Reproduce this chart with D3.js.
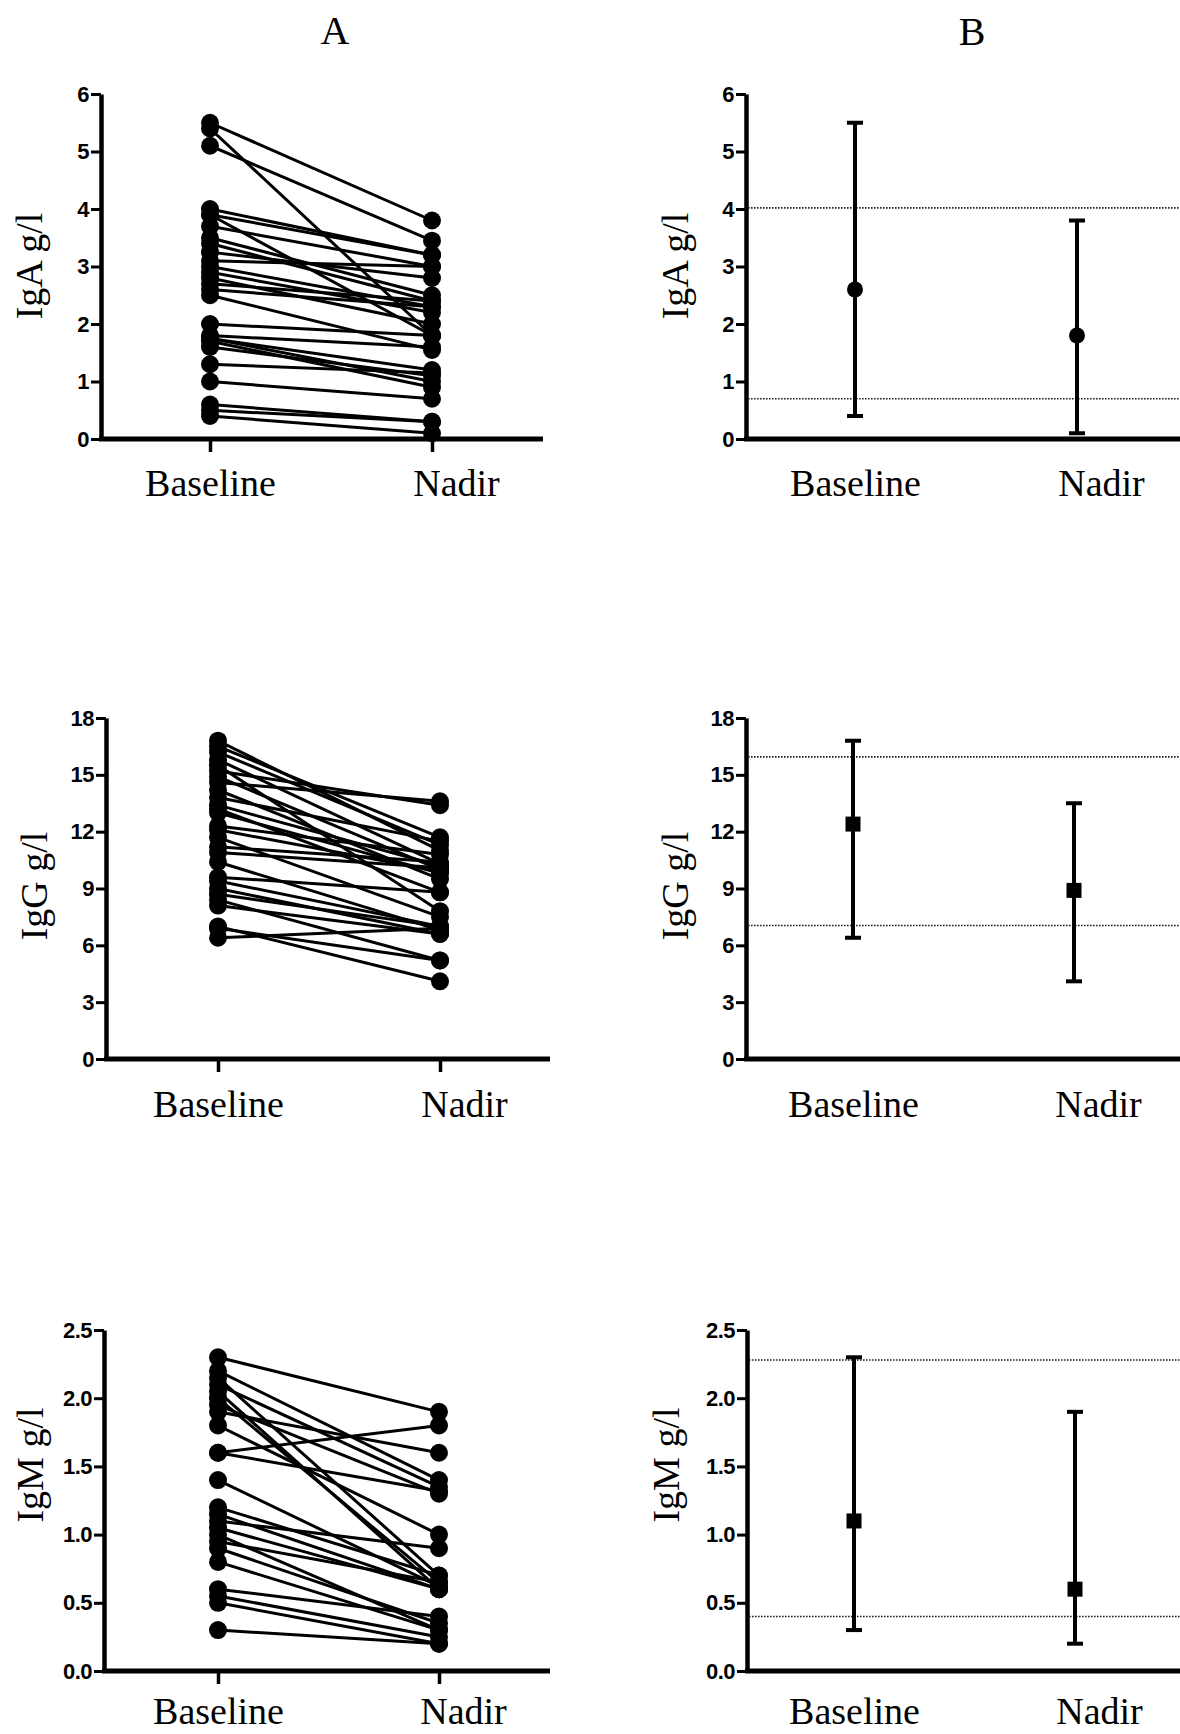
<!DOCTYPE html>
<html><head><meta charset="utf-8">
<script src="https://cdn.jsdelivr.net/npm/d3@7"></script>
<style>
html,body{margin:0;padding:0;background:#fff;}
svg{display:block;}
</style></head><body>
<svg id="chart" width="1180" height="1734"></svg>
<script>
// ---------------- DATA ----------------
const categories = ["Baseline", "Nadir"];
const columnTitles = ["A", "B"];
const yLabels = ["IgA g/l", "IgG g/l", "IgM g/l"];

const igaTicks = [0, 1, 2, 3, 4, 5, 6];
const iggTicks = [0, 3, 6, 9, 12, 15, 18];
const igmTicks = [0, 0.5, 1.0, 1.5, 2.0, 2.5];

// individual patients (paired by index)
const igaBaseline = [5.5, 5.4, 5.1, 4.0, 3.9, 3.9, 3.7, 3.5, 3.4, 3.25, 3.1, 3.0, 2.9, 2.8, 2.7, 2.6, 2.5, 2.0, 1.8, 1.75, 1.75, 1.7, 1.6, 1.3, 1.0, 0.6, 0.5, 0.4];
const igaNadir    = [3.8, 1.8, 3.45, 3.2, 1.8, 3.2, 3.0, 2.5, 2.4, 2.8, 3.0, 2.3, 2.2, 2.0, 2.4, 2.3, 1.55, 1.8, 1.6, 1.2, 1.0, 0.9, 1.1, 1.15, 0.7, 0.3, 0.3, 0.1];

const iggBaseline = [16.8, 16.5, 16.2, 15.8, 15.5, 15.2, 14.9, 14.6, 14.2, 13.8, 13.4, 13.2, 13.0, 12.3, 12.1, 11.7, 11.2, 10.9, 10.4, 9.6, 9.4, 9.0, 8.7, 8.4, 8.1, 7.0, 6.9, 6.4];
const iggNadir    = [11.0, 11.7, 11.3, 10.3, 7.8, 13.4, 10.0, 13.6, 9.5, 11.5, 10.2, 8.8, 9.8, 10.8, 9.9, 7.5, 10.4, 10.1, 6.8, 8.8, 7.0, 6.6, 7.0, 5.2, 6.6, 4.1, 5.2, 6.9];

const igmBaseline = [2.3, 2.2, 2.15, 2.1, 2.05, 2.0, 1.95, 1.9, 1.8, 1.6, 1.6, 1.4, 1.2, 1.15, 1.1, 1.05, 1.0, 0.95, 0.9, 0.8, 0.6, 0.55, 0.5, 0.3];
const igmNadir    = [1.9, 1.4, 0.7, 1.35, 0.6, 0.65, 1.3, 1.6, 1.0, 1.8, 1.32, 0.62, 0.7, 0.6, 0.9, 0.6, 0.3, 0.65, 0.35, 0.3, 0.4, 0.25, 0.2, 0.2];

// summaries: [Baseline, Nadir]
const igaMid  = [2.6, 1.8];
const igaLow  = [0.4, 0.1];
const igaHigh = [5.5, 3.8];
const igaRef  = [0.7, 4.02];

const iggMid  = [12.4, 8.9];
const iggLow  = [6.4, 4.1];
const iggHigh = [16.8, 13.5];
const iggRef  = [7.05, 15.95];

const igmMid  = [1.1, 0.6];
const igmLow  = [0.3, 0.2];
const igmHigh = [2.3, 1.9];
const igmRef  = [0.4, 2.28];

// ---------------- LAYOUT ----------------
const rows = [
  {y0: 439, yTop: 94, labelY: 266, xLabOff: 57, max: 6, ticks: igaTicks, fmt: d3.format("d"),
   base: igaBaseline, nadir: igaNadir, mid: igaMid, low: igaLow, high: igaHigh, ref: igaRef, marker: "circle",
   A: {axisX: 101, baseX: 210, nadirX: 432, endX: 543, labelX: 30},
   B: {axisX: 746, baseX: 855, nadirX: 1077, endX: 1180, labelX: 676}},
  {y0: 1059, yTop: 718, labelY: 886, xLabOff: 58, max: 18, ticks: iggTicks, fmt: d3.format("d"),
   base: iggBaseline, nadir: iggNadir, mid: iggMid, low: iggLow, high: iggHigh, ref: iggRef, marker: "square",
   A: {axisX: 106, baseX: 218, nadirX: 440, endX: 550, labelX: 35},
   B: {axisX: 746, baseX: 853, nadirX: 1074, endX: 1180, labelX: 676}},
  {y0: 1671, yTop: 1330, labelY: 1465, xLabOff: 53, max: 2.5, ticks: igmTicks, fmt: d3.format(".1f"),
   base: igmBaseline, nadir: igmNadir, mid: igmMid, low: igmLow, high: igmHigh, ref: igmRef, marker: "square",
   A: {axisX: 104, baseX: 218, nadirX: 439, endX: 550, labelX: 31},
   B: {axisX: 747, baseX: 854, nadirX: 1075, endX: 1180, labelX: 667}}
];

const svg = d3.select("#chart");
const serif = "'Liberation Serif','Times New Roman',serif";
const sans = "'Liberation Sans','Arial',sans-serif";

// column titles
svg.append("text").attr("x", 335).attr("y", 44).attr("text-anchor", "middle")
  .style("font-family", serif).style("font-size", "40px").text(columnTitles[0]);
svg.append("text").attr("x", 972).attr("y", 45).attr("text-anchor", "middle")
  .style("font-family", serif).style("font-size", "40px").text(columnTitles[1]);

function drawFrame(g, row, L, yl, withXTicks) {
  const y = d3.scaleLinear().domain([0, row.max]).range([row.y0, row.yTop]);
  const x = d3.scalePoint().domain(categories).range([L.baseX, L.nadirX]);

  // x axis line
  g.append("line").attr("x1", L.axisX - 2).attr("x2", L.endX)
    .attr("y1", row.y0).attr("y2", row.y0)
    .attr("stroke", "#000").attr("stroke-width", 5);

  // y axis
  const ya = g.append("g").attr("transform", `translate(${L.axisX},0)`)
    .call(d3.axisLeft(y).tickValues(row.ticks).tickFormat(row.fmt)
      .tickSize(10).tickSizeOuter(0).tickPadding(2));
  ya.select(".domain").attr("stroke", "#000").attr("stroke-width", 4.5);
  ya.selectAll(".tick line").attr("stroke", "#000").attr("stroke-width", 3);
  ya.selectAll(".tick text").style("font-family", sans).style("font-weight", "bold")
    .style("font-size", "22px").style("letter-spacing", "-0.5px").attr("fill", "#000");

  // x axis ticks + labels
  const xa = g.append("g").attr("transform", `translate(0,${row.y0})`)
    .call(d3.axisBottom(x).tickSize(withXTicks ? 13 : 0).tickPadding(0));
  xa.select(".domain").remove();
  xa.selectAll(".tick line").attr("stroke", "#000").attr("stroke-width", 3.5);
  xa.selectAll(".tick text")
    .style("font-family", serif).style("font-size", "38px").attr("fill", "#000")
    .attr("y", row.xLabOff).attr("dy", 0)
    .attr("dx", d => d === "Nadir" ? 24 : 0);

  // y label
  g.append("text")
    .attr("transform", `translate(${L.labelX + 12},${row.labelY}) rotate(-90)`)
    .attr("text-anchor", "middle").style("font-family", serif).style("font-size", "38px")
    .text(yl);
  return {x, y};
}

rows.forEach((row, i) => {
  // ---- Column A: paired individual values ----
  const gA = svg.append("g");
  const {x: xA, y: yA} = drawFrame(gA, row, row.A, yLabels[i], true);
  const pairs = row.base.map((b, k) => ({b, n: row.nadir[k]}));
  gA.append("g").selectAll("line").data(pairs).join("line")
    .attr("x1", xA(categories[0])).attr("x2", xA(categories[1]))
    .attr("y1", d => yA(d.b)).attr("y2", d => yA(d.n))
    .attr("stroke", "#000").attr("stroke-width", 3);
  gA.append("g").selectAll("circle").data(row.base).join("circle")
    .attr("cx", xA(categories[0])).attr("cy", d => yA(d)).attr("r", 9).attr("fill", "#000");
  gA.append("g").selectAll("circle").data(row.nadir).join("circle")
    .attr("cx", xA(categories[1])).attr("cy", d => yA(d)).attr("r", 9).attr("fill", "#000");

  // ---- Column B: summary with range ----
  const gB = svg.append("g");
  const L = row.B;
  const {x: xB, y: yB} = drawFrame(gB, row, L, yLabels[i], false);
  gB.append("g").selectAll("line").data(row.ref).join("line")
    .attr("x1", L.axisX + 2).attr("x2", L.endX)
    .attr("y1", d => yB(d)).attr("y2", d => yB(d))
    .attr("stroke", "#222").attr("stroke-width", 1.6).attr("stroke-dasharray", "1.6,1.4");
  const summ = categories.map((c, k) => ({c, mid: row.mid[k], lo: row.low[k], hi: row.high[k]}));
  const eb = gB.append("g").selectAll("g").data(summ).join("g");
  eb.append("line").attr("x1", d => xB(d.c)).attr("x2", d => xB(d.c))
    .attr("y1", d => yB(d.lo)).attr("y2", d => yB(d.hi))
    .attr("stroke", "#000").attr("stroke-width", 4);
  ["lo", "hi"].forEach(k => {
    eb.append("line").attr("x1", d => xB(d.c) - 8).attr("x2", d => xB(d.c) + 8)
      .attr("y1", d => yB(d[k])).attr("y2", d => yB(d[k]))
      .attr("stroke", "#000").attr("stroke-width", 4);
  });
  if (row.marker === "circle") {
    eb.append("ellipse").attr("cx", d => xB(d.c)).attr("cy", d => yB(d.mid))
      .attr("rx", 8).attr("ry", 8).attr("fill", "#000");
  } else {
    eb.append("rect").attr("x", d => xB(d.c) - 7.5).attr("y", d => yB(d.mid) - 7.5)
      .attr("width", 15).attr("height", 15).attr("fill", "#000");
  }
});
</script>
</body></html>
